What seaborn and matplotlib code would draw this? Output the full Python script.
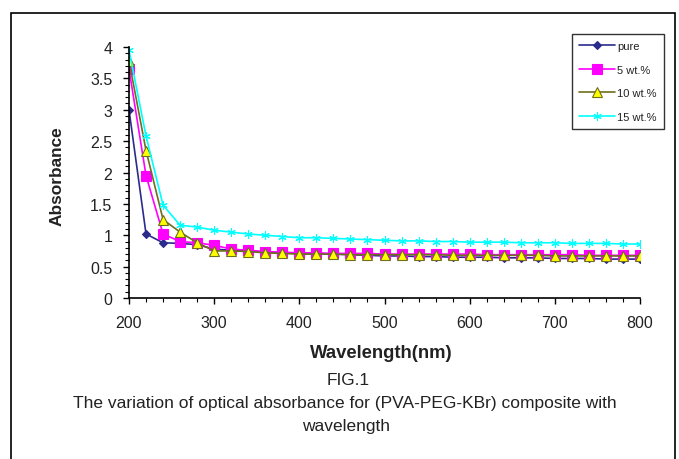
import numpy as np
import pandas as pd
import matplotlib
matplotlib.use("Agg")
import matplotlib.pyplot as plt
import matplotlib.ticker as mticker
from matplotlib.lines import Line2D
from matplotlib.patches import Rectangle
import seaborn as sns

# ── Data ─────────────────────────────────────────────────────────────────────
wavelength = list(range(200, 801, 20))

pure = [3.00, 1.02, 0.88, 0.87, 0.85, 0.78, 0.76, 0.75, 0.73, 0.72, 0.71,
        0.70, 0.70, 0.69, 0.68, 0.67, 0.67, 0.66, 0.66, 0.65, 0.65, 0.65,
        0.64, 0.64, 0.64, 0.63, 0.63, 0.63, 0.62, 0.62, 0.62]
wt5 = [3.65, 1.95, 1.02, 0.90, 0.88, 0.84, 0.78, 0.76, 0.74, 0.73, 0.72,
       0.72, 0.71, 0.71, 0.71, 0.70, 0.70, 0.70, 0.70, 0.70, 0.70, 0.69,
       0.69, 0.69, 0.69, 0.69, 0.69, 0.68, 0.68, 0.68, 0.68]
wt10 = [3.78, 2.35, 1.25, 1.05, 0.88, 0.75, 0.75, 0.74, 0.72, 0.71, 0.70,
        0.70, 0.70, 0.69, 0.69, 0.69, 0.69, 0.69, 0.69, 0.68, 0.68, 0.68,
        0.68, 0.68, 0.68, 0.67, 0.67, 0.67, 0.67, 0.67, 0.67]
wt15 = [3.95, 2.58, 1.48, 1.16, 1.13, 1.08, 1.05, 1.02, 1.00, 0.98, 0.96,
        0.96, 0.95, 0.94, 0.93, 0.92, 0.91, 0.91, 0.90, 0.90, 0.89, 0.89,
        0.89, 0.88, 0.88, 0.88, 0.87, 0.87, 0.87, 0.86, 0.86]

labels = ["pure", "5 wt.%", "10 wt.%", "15 wt.%"]
series = [pure, wt5, wt10, wt15]

# ── Style ────────────────────────────────────────────────────────────────────
sns.set_style("white")
plt.rcParams["font.family"] = ["Liberation Sans", "DejaVu Sans"]

TXT = "#222222"
styles = [
    dict(color="#2B2B8C", marker="D", markersize=4.5, markerfacecolor="#2B2B8C", markeredgecolor="#2B2B8C"),
    dict(color="#FF00FF", marker="s", markersize=6.5, markerfacecolor="#FF00FF", markeredgecolor="#FF00FF"),
    dict(color="#6E6E1E", marker="^", markersize=6.5, markerfacecolor="#FFFF00", markeredgecolor="#6E6E1E"),
    dict(color="#00FFFF", marker=(6, 2, 0), markersize=6, markerfacecolor="#00FFFF", markeredgecolor="#00FFFF"),
]

df = pd.DataFrame({"wavelength": wavelength})
for lab, vals in zip(labels, series):
    df[lab] = vals

fig = plt.figure(figsize=(6.79, 4.60), dpi=100)
ax = fig.add_axes([129 / 679, 1 - 299 / 460, 511 / 679, 251 / 460])

for lab, st in zip(labels, styles):
    sns.lineplot(data=df, x="wavelength", y=lab, ax=ax, linewidth=1.2,
                 markeredgewidth=0.8, legend=False, **st)

ax.set_xlim(200, 800)
ax.set_ylim(0, 4)
ax.xaxis.set_major_locator(mticker.MultipleLocator(100))
ax.xaxis.set_minor_locator(mticker.MultipleLocator(20))
ax.yaxis.set_major_locator(mticker.MultipleLocator(0.5))
ax.yaxis.set_minor_locator(mticker.MultipleLocator(0.1))
ax.yaxis.set_major_formatter(mticker.FuncFormatter(lambda v, p: f"{v:g}"))
ax.tick_params(which="major", direction="out", length=4, width=1, labelsize=11.5,
               colors="black", labelcolor=TXT)
ax.tick_params(axis="x", which="major", pad=8)
ax.tick_params(axis="y", which="major", pad=8)
ax.tick_params(which="minor", direction="out", length=3, width=0.8, colors="black")
ax.tick_params(axis="x", bottom=True, which="both")
ax.tick_params(axis="y", left=True, which="both")
for s in ["top", "right"]:
    ax.spines[s].set_visible(False)
for s in ["left", "bottom"]:
    ax.spines[s].set_color("black")
    ax.spines[s].set_linewidth(1.2)
ax.set_xlabel("")
ax.set_ylabel("")

# axis titles and caption
fig.text(57 / 679, 1 - 176 / 460, "Absorbance", rotation=90, ha="center", va="center",
         fontsize=12.4, fontweight="bold", color=TXT)
fig.text(381 / 679, 1 - 354 / 460, "Wavelength(nm)", ha="center", va="center",
         fontsize=13.3, fontweight="bold", color=TXT)
fig.text(348 / 679, 1 - 381 / 460, "FIG.1", ha="center", va="center", fontsize=12.4, color=TXT)
fig.text(345 / 679, 1 - 404 / 460,
         "The variation of optical absorbance for (PVA-PEG-KBr) composite with",
         ha="center", va="center", fontsize=12.5, color=TXT)
fig.text(346 / 679, 1 - 427 / 460, "wavelength", ha="center", va="center",
         fontsize=12.5, color=TXT)

# legend
handles = [Line2D([], [], linewidth=1.2, markeredgewidth=0.8, **st) for st in styles]
leg = fig.legend(handles, labels, loc="upper left",
                 bbox_to_anchor=(572 / 679, 1 - 35 / 460), bbox_transform=fig.transFigure,
                 fontsize=8, frameon=True, fancybox=False, edgecolor="black",
                 handlelength=3.2, labelspacing=1.22, borderpad=0.65, handletextpad=0.2,
                 borderaxespad=0)
leg.get_frame().set_linewidth(1.0)
for t in leg.get_texts():
    t.set_color(TXT)

# outer chart frame (open at the bottom)
fig.add_artist(Rectangle((11 / 679, -0.1), (675 - 11) / 679, 1.1 - 14 / 460,
                         transform=fig.transFigure, fill=False, edgecolor="black",
                         linewidth=1.2, clip_on=False))

fig.savefig("out.png", dpi=100)
